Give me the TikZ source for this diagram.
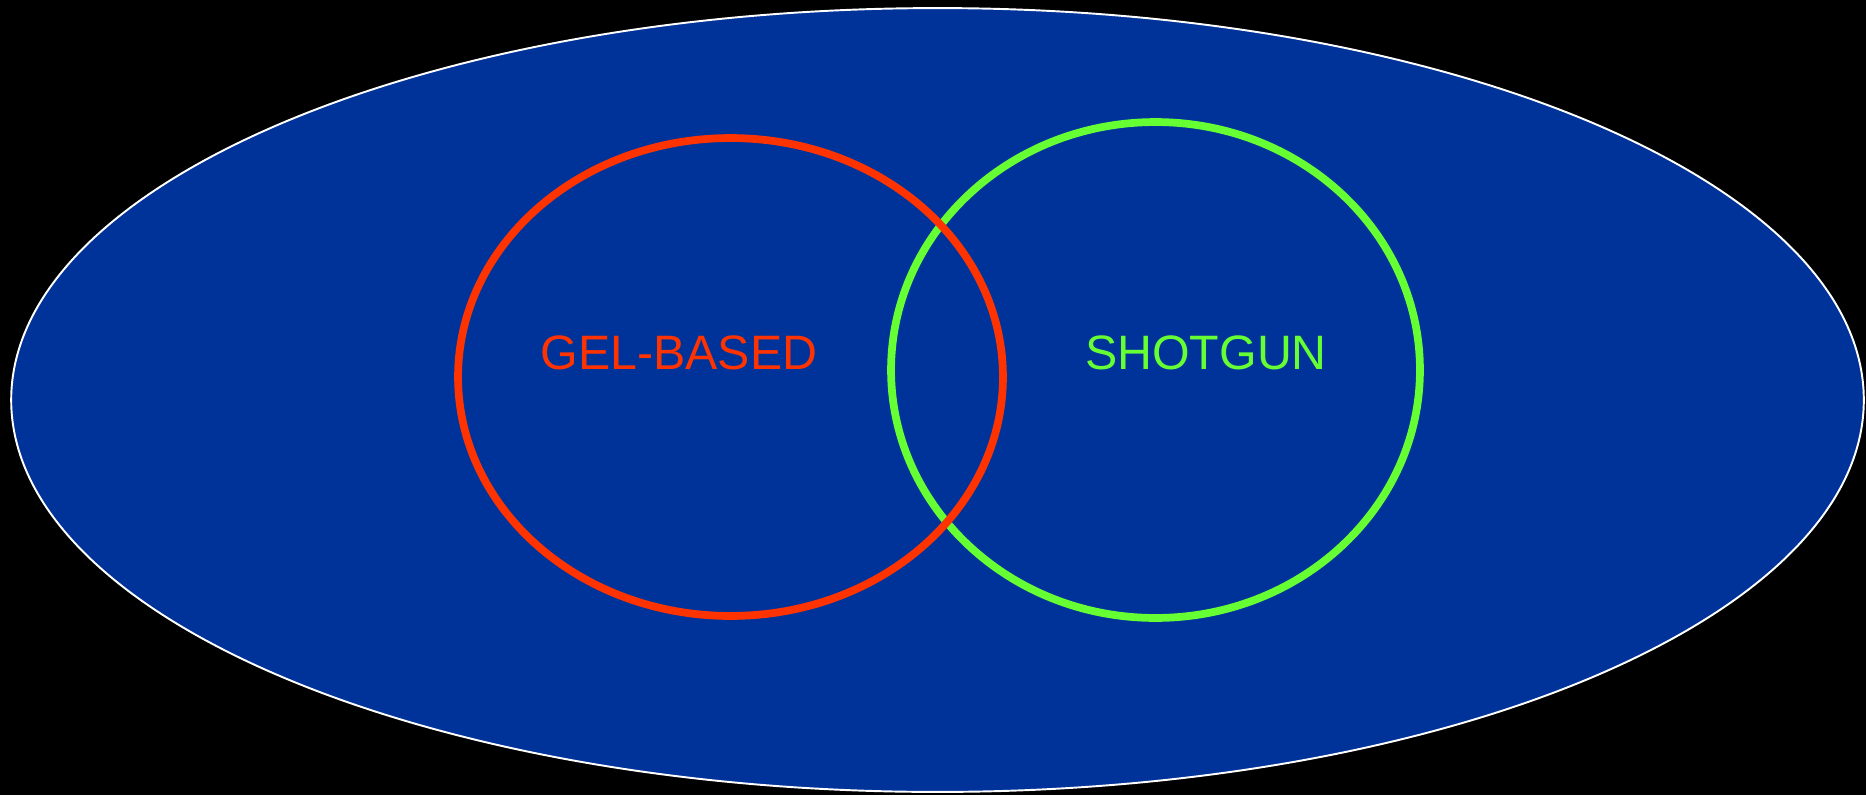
\documentclass[tikz,border=0pt]{standalone}
\usepackage{fontspec}
\setmainfont{Liberation Sans}
\usetikzlibrary{positioning}

\definecolor{field}{HTML}{003399}
\definecolor{gelred}{HTML}{FF3300}
\definecolor{shotgreen}{HTML}{66FF33}

\begin{document}
\begin{tikzpicture}[
    x=0.02cm, y=-0.02cm,
    ring/.style={line width=4.4pt},
    lbl/.style={font=\fontsize{27.5}{32}\selectfont, inner sep=0pt}
]
    % background and frame
    \fill[black] (0,0) rectangle (1866,795);
    \useasboundingbox (0,0) rectangle (1866,795);

    \coordinate (all) at (937.5,400);
    \coordinate (gelc) at (730.5,377);
    \coordinate (shotc) at (1155.5,370);

    \draw[white, line width=1.1pt, fill=field] (all) ellipse [x radius=18.53cm, y radius=7.84cm];
    \draw[ring, shotgreen] (shotc) ellipse [x radius=5.29cm, y radius=4.96cm];
    \draw[ring, gelred] (gelc) ellipse [x radius=5.45cm, y radius=4.78cm];

    \node[lbl, text=gelred] (gel) at (679,353) {GEL-BASED};
    \node[lbl, text=shotgreen] (shot) at (1206,353) {SHOTGUN};
\end{tikzpicture}
\end{document}
